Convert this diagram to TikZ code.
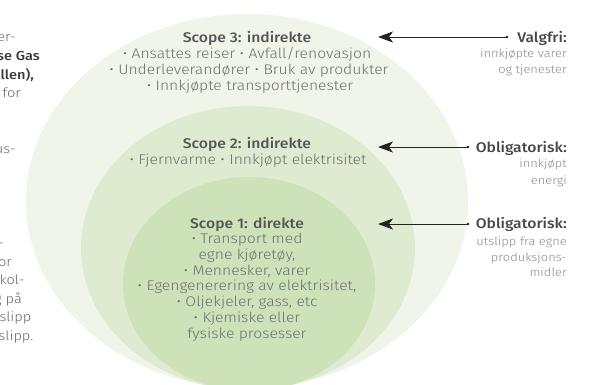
\documentclass[tikz,border=0pt]{standalone}
\usepackage{fontspec}
\usetikzlibrary{shapes.geometric,arrows.meta}
\IfFontExistsTF{Fira Sans Light}{\newfontfamily\lightf{Fira Sans Light}[FakeStretch=1.12]}{\newfontfamily\lightf{Fira Sans}[FakeStretch=1.12]}
\IfFontExistsTF{Fira Sans Medium}{\newfontfamily\medf{Fira Sans Medium}[FakeStretch=1.12]}{\newfontfamily\medf{Fira Sans}[FakeStretch=1.12]}
\definecolor{cOuter}{HTML}{EFF5E9}
\definecolor{cMid}{HTML}{DFEBD0}
\definecolor{cInner}{HTML}{CEE2BA}
\definecolor{bodygrey}{HTML}{6E6E6E}
\definecolor{titlegrey}{HTML}{555555}
\definecolor{rtitlegrey}{HTML}{474747}
\definecolor{descgrey}{HTML}{8A8A8A}
\definecolor{leftgrey}{HTML}{666666}
\definecolor{leftdark}{HTML}{3A3A3A}
\definecolor{arrowgrey}{HTML}{222222}
\tikzset{
  blob/.style={ellipse, draw=none, inner sep=0pt},
  body/.style={font=\lightf\fontsize{14}{16}\selectfont, text=bodygrey, inner sep=0pt, anchor=base},
  ttl/.style={font=\medf\fontsize{14}{16}\selectfont, text=titlegrey, inner sep=0pt, anchor=base},
  rttl/.style={font=\medf\fontsize{14}{16}\selectfont, text=rtitlegrey, inner sep=0pt, anchor=base east},
  rdesc/.style={font=\lightf\fontsize{11.5}{14}\selectfont, text=descgrey, inner sep=0pt, anchor=base east},
  lfrag/.style={font=\lightf\fontsize{13}{16}\selectfont, text=leftgrey, inner sep=0pt, anchor=base east},
  lbold/.style={font=\medf\fontsize{13}{16}\selectfont, text=leftdark, inner sep=0pt, anchor=base east},
  pointer/.style={draw=arrowgrey, line width=0.9pt, -{Stealth[length=15pt,width=11pt,inset=4pt]}},
  taildot/.style={circle, fill=arrowgrey, inner sep=0pt, minimum size=2.6pt}
}
\begin{document}
\begin{tikzpicture}[x=1pt,y=-1pt]
\useasboundingbox (0,0) rectangle (597,384);
\fill[white] (0,0) rectangle (597,384);
% nested scopes
\node[blob, fill=cOuter, minimum width=442pt, minimum height=374pt] (s3) at (247,201) {};
\node[blob, fill=cMid, minimum width=334pt, minimum height=284pt] (s2) at (248,248) {};
\node[blob, fill=cInner, minimum width=252pt, minimum height=214pt] (s1) at (249,284) {};
% scope 3 text
\node[ttl]  (t3a) at (247,42) {Scope 3: indirekte};
\node[body] (t3b) at (247,58) {• Ansattes reiser • Avfall/renovasjon};
\node[body] (t3c) at (249,74) {• Underleverandører • Bruk av produkter};
\node[body] (t3d) at (250,90) {• Innkjøpte transporttjenester};
% scope 2 text
\node[ttl]  (t2a) at (247,148) {Scope 2: indirekte};
\node[body] (t2b) at (248,164) {• Fjernvarme • Innkjøpt elektrisitet};
% scope 1 text
\node[ttl]  (t1a) at (247,228) {Scope 1: direkte};
\node[body] (t1b) at (247,243.7) {• Transport med};
\node[body] (t1c) at (247,259.4) {egne kjøretøy,};
\node[body] (t1d) at (247,275.1) {• Mennesker, varer};
\node[body] (t1e) at (247,290.8) {• Egengenerering av elektrisitet,};
\node[body] (t1f) at (247,306.5) {• Oljekjeler, gass, etc};
\node[body] (t1g) at (247,322.2) {• Kjemiske eller};
\node[body] (t1h) at (247,338) {fysiske prosesser};
% right annotations
\node[rttl]  (r3a) at (567,42) {Valgfri:};
\node[rdesc] (r3b) at (567,57.5) {innkjøpte varer};
\node[rdesc] (r3c) at (567,73.5) {og tjenester};
\node[rttl]  (r2a) at (567,152) {Obligatorisk:};
\node[rdesc] (r2b) at (567,167) {innkjøpt};
\node[rdesc] (r2c) at (567,184) {energi};
\node[rttl]  (r1a) at (567,228) {Obligatorisk:};
\node[rdesc] (r1b) at (567,245) {utslipp fra egne};
\node[rdesc] (r1c) at (567,261) {produksjons-};
\node[rdesc] (r1d) at (567,276) {midler};
% arrows
\node[taildot] (d3) at (507,37) {};
\node[taildot] (d2) at (468,147) {};
\node[taildot] (d1) at (468,224) {};
\coordinate (p3) at (378,37);
\coordinate (p2) at (378,147);
\coordinate (p1) at (378,224);
\draw[pointer] (d3.center) -- (p3);
\draw[pointer] (d2.center) -- (p2);
\draw[pointer] (d1.center) -- (p1);
% cut-off text at left edge
\node[lfrag] (l1) at (16,41) {er-};
\node[lbold] (l2) at (40,60) {se Gas};
\node[lbold] (l3) at (34,79) {ollen),};
\node[lfrag] (l4) at (21,97.5) {for};
\node[lfrag] (l5) at (16,153) {us-};
\node[lfrag] (l6) at (4,247.5) {-};
\node[lfrag] (l7) at (12,266) {or};
\node[lfrag] (l8) at (25,284.5) {kol-};
\node[lfrag] (l9) at (22,303) {g på};
\node[lfrag] (l10) at (31.5,321.5) {tslipp};
\node[lfrag] (l11) at (33.5,340) {tslipp.};
\end{tikzpicture}
\end{document}
